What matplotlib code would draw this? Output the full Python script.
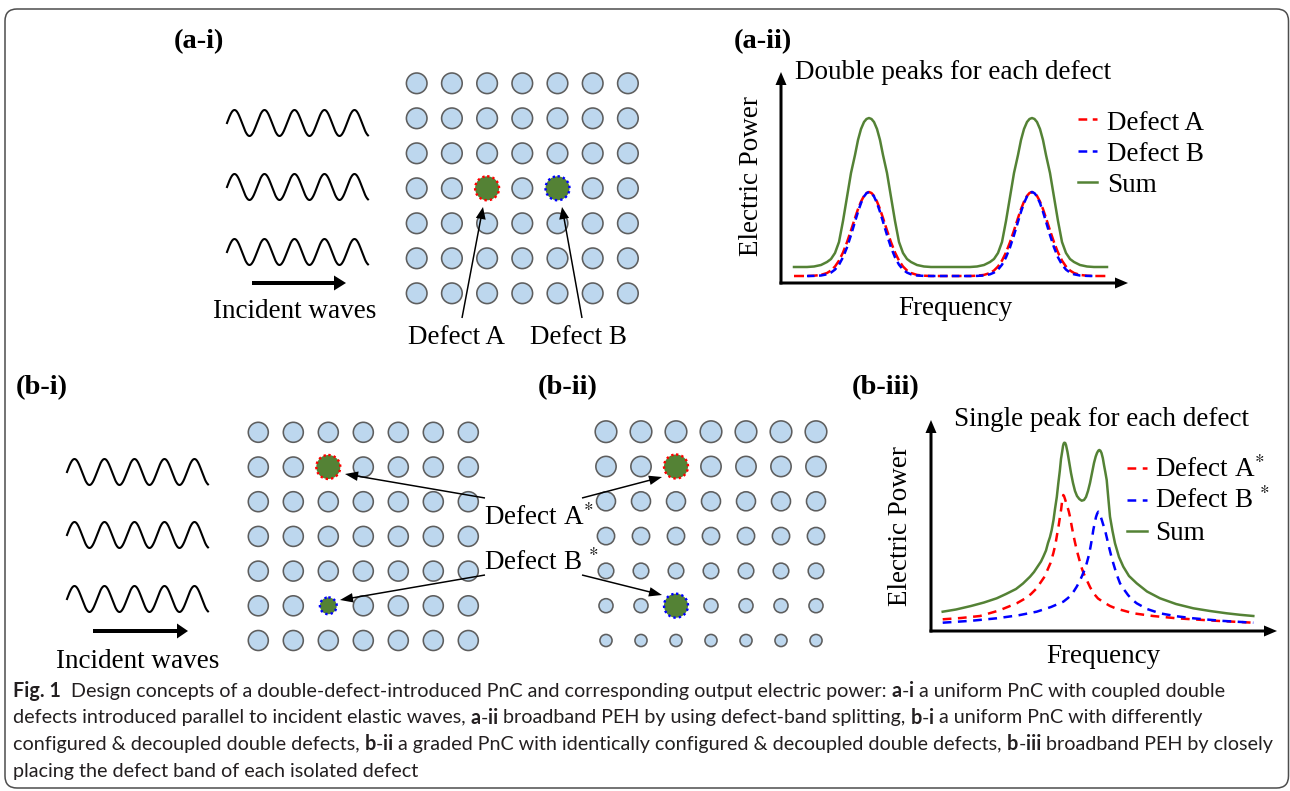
import numpy as np
import matplotlib
matplotlib.use("Agg")
import matplotlib.pyplot as plt
from matplotlib.patches import Circle, FancyBboxPatch

# ---------------------------------------------------------------- data
LATTICE_ROWS = 7
LATTICE_COLS = 7
# (row, col, defect id)
DEFECTS_AI = [(3, 2, "A"), (3, 4, "B")]
DEFECTS_BI = [(1, 2, "A"), (5, 2, "B")]
DEFECTS_BII = [(1, 2, "A"), (5, 2, "B")]
# relative defect size (b-i: differently configured, b-ii: identical)
DEFECT_SIZE_BI = {"A": 1.0, "B": 0.70}
DEFECT_SIZE_BII = {"A": 1.0, "B": 1.0}
# graded PnC: relative cylinder radius of each row (b-ii)
GRADED_RATIO = [1.00, 0.94, 0.88, 0.80, 0.72, 0.65, 0.56]

# (a-ii) double peaks for each defect (frequency / power, arbitrary units)
A2_FREQ = [13, 26, 33, 40, 46, 50, 54, 58, 62, 66, 70, 74, 77, 80, 83, 85.5, 88,
           90.5, 93, 96, 99, 102, 106, 110, 114, 118, 122, 126, 130, 136, 143, 150,
           170,
           189, 196, 203, 209, 213, 217, 221, 225, 229, 233, 237, 240, 243, 246, 248.5, 251,
           253.5, 256, 259, 262, 265, 269, 273, 277, 281, 285, 289, 293, 299, 306, 313,
           326]
A2_SUM = [16, 16, 16.5, 18, 21, 24, 30, 41, 62, 86, 110, 128, 143, 154, 161, 164, 165,
          164, 161, 154, 143, 128, 110, 86, 62, 41, 30, 24, 21, 18, 16.5, 16,
          16,
          16, 16.5, 18, 21, 24, 30, 41, 62, 86, 110, 128, 143, 154, 161, 164, 165,
          164, 161, 154, 143, 128, 110, 86, 62, 41, 30, 24, 21, 18, 16.5, 16,
          16]
A2_DEF_A = [7, 7, 7.3, 8.1, 10, 12.5, 16.5, 22.4, 30.5, 40.8, 52.6, 65, 73.9, 81.4, 87.1, 90, 91,
            90, 87.1, 81.4, 73.9, 65, 52.6, 40.8, 30.5, 22.4, 16.5, 12.5, 10, 8.1, 7.3, 7,
            7,
            7, 7.3, 8.1, 10, 12.5, 16.5, 22.4, 30.5, 40.8, 52.6, 65, 73.9, 81.4, 87.1, 90, 91,
            90, 87.1, 81.4, 73.9, 65, 52.6, 40.8, 30.5, 22.4, 16.5, 12.5, 10, 8.1, 7.3, 7,
            7]
A2_FREQ_B = A2_FREQ[1:-1]
A2_DEF_B = [7, 7.1, 7.5, 8.7, 10.4, 13.4, 18.3, 25.7, 35.6, 47.9, 61.3, 71.2, 79.9, 86.5, 89.8, 91,
            89.8, 86.5, 79.9, 71.2, 61.3, 47.9, 35.6, 25.7, 18.3, 13.4, 10.4, 8.7, 7.5, 7.1, 7,
            7,
            7, 7.1, 7.5, 8.7, 10.4, 13.4, 18.3, 25.7, 35.6, 47.9, 61.3, 71.2, 79.9, 86.5, 89.8, 91,
            89.8, 86.5, 79.9, 71.2, 61.3, 47.9, 35.6, 25.7, 18.3, 13.4, 10.4, 8.7, 7.5, 7.1, 7]

# (b-iii) single peak for each defect
B3_FREQ_SUM = [11.7, 25, 40, 53, 65.7, 75, 85, 92, 99, 103, 107, 110, 112.3, 115, 117,
               119, 120.7, 122.5, 124, 125.8, 127.3, 128.8, 130, 131.2, 132, 132.7, 133.3,
               134.2, 135, 136.5, 138, 140, 142, 144, 146, 148.3, 150.7, 153, 155, 157,
               159, 161, 163, 164.7, 166, 167.3, 168.3, 169.4, 170.5, 171.8, 173, 174.3,
               175.7, 177.3, 179, 181.5, 184, 188, 192.3, 198, 205.7, 216, 229, 245,
               262.3, 279, 295.7, 309, 322.3]
B3_SUM = [19.3, 21.5, 25, 28.5, 32.7, 37, 42, 47.5, 54.3, 59, 65, 69.5, 74.3, 80.5, 88,
          94, 101, 111, 122, 134, 147.7, 160, 172, 179.5, 185, 187.5, 188.3,
          188, 186, 179, 170, 158, 148, 140, 135, 132, 130.3, 131, 134, 140,
          148, 158, 168, 174.5, 178, 180.3, 181, 180.3, 178, 173, 166, 159,
          151, 133, 114.3, 100, 87.7, 74, 64.3, 55, 47.7, 39.5, 32.7, 27,
          22.7, 20, 17.7, 16.2, 15]
B3_FREQ_A = [11.7, 30, 49, 68, 85.7, 95, 100, 105, 109, 113, 116, 119.5, 122.3, 124.3,
             126, 127.6, 129, 130.2, 131, 131.8, 132.3, 133, 134, 135.2, 136.5, 137.8,
             139, 140.5, 142, 143.8, 145.7, 148, 150, 152.7, 155.7, 159, 162.3, 167,
             172.3, 179, 185, 192.3, 202.3, 222, 245.7, 285, 322.3]
B3_DEF_A = [11.7, 13, 15, 20.5, 27.7, 33, 37, 42, 47.7, 53.5, 60, 68, 77.7, 86,
            96, 105, 114.3, 122, 129, 133.5, 136, 135, 132, 128, 124, 119.5,
            114.3, 106, 98, 89.5, 81, 72.5, 65, 57.5, 51, 44, 38, 32.5,
            29, 25, 22.5, 20.5, 17.7, 15, 12.7, 10.2, 8.3]
B3_FREQ_B = [11.7, 40, 65.7, 88, 105.7, 120, 132.3, 137, 140, 143, 145.7, 148.5, 151,
             153.5, 155.7, 157.8, 159.5, 161, 162.3, 163.7, 165, 166.2, 167.3, 168.4,
             169.5, 170.8, 172, 173, 174, 176, 178, 180, 182.3, 185.5, 189, 193, 197,
             201, 205.7, 216, 229, 245, 262.3, 290, 322.3]
B3_DEF_B = [8.3, 10.2, 12.7, 15.8, 19.3, 24, 29.3, 33, 36, 40, 44.3, 49.5, 55,
            61, 67.7, 75.5, 84, 92.5, 101, 108, 114, 117.5, 119.3, 118, 115, 111,
            107, 104, 101, 92.5, 84, 76, 67.7, 57, 47.7, 41.5, 36, 31.5, 27.7,
            22, 17.7, 14.8, 12.7, 10.2, 8.3]

LEGEND_A2 = ["Defect A", "Defect B", "Sum"]
LEGEND_B3 = ["Defect A$^{*}$", "Defect B $^{*}$", "Sum"]

CAPTION = [
    [("Fig. 1", True), ("  Design concepts of a double-defect-introduced PnC and corresponding output electric power: ", False),
     ("a", True), ("-", False), ("i", True), (" a uniform PnC with coupled double", False)],
    [("defects introduced parallel to incident elastic waves, ", False), ("a", True), ("-", False), ("ii", True),
     (" broadband PEH by using defect-band splitting, ", False), ("b", True), ("-", False), ("i", True),
     (" a uniform PnC with differently", False)],
    [("configured & decoupled double defects, ", False), ("b", True), ("-", False), ("ii", True),
     (" a graded PnC with identically configured & decoupled double defects, ", False),
     ("b", True), ("-", False), ("iii", True), (" broadband PEH by closely", False)],
    [("placing the defect band of each isolated defect", False)],
]

# ---------------------------------------------------------------- style
W, H = 1290, 791
plt.rcParams["mathtext.fontset"] = "stix"
SERIF = "Liberation Serif"
SANS = "Lato"
FS = 19.5
CYL_FILL = "#BDD7EE"
CYL_EDGE = "#5E5E5E"
GREEN = "#548235"
RED = "#FF0000"
BLUE = "#0000FF"
DEF_COLOR = {"A": RED, "B": BLUE}

fig = plt.figure(figsize=(W / 100, H / 100), dpi=100)
ax = fig.add_axes([0, 0, 1, 1])
ax.set_xlim(0, W)
ax.set_ylim(H, 0)
ax.axis("off")

ax.add_patch(FancyBboxPatch((5, 9), 1283.5, 779, boxstyle="round,pad=0,rounding_size=12",
                            fill=False, ec="#4d4d4d", lw=1.1))


def label(x, y, s, **kw):
    kw.setdefault("fontsize", FS)
    kw.setdefault("family", SERIF)
    ax.text(x, y, s, **kw)


def arrow(x0, y0, x1, y1, shaft, hw, hl):
    ax.arrow(x0, y0, x1 - x0, y1 - y0, width=shaft, head_width=hw, head_length=hl,
             length_includes_head=True, fc="k", ec="none", zorder=6)


def waves(x0, yc_list, length=141, amp=13, period=30):
    t = np.linspace(0, length, 400)
    for yc in yc_list:
        ax.plot(x0 + t, yc - amp * np.sin(2 * np.pi * t / period), color="k", lw=1.5)


def lattice(x0, y0, dx, dy, r, defects, ratio=None, dsize=None, rdef=12.0):
    ratio = ratio or [1.0] * LATTICE_ROWS
    dpos = {(i, j): d for i, j, d in defects}
    for i in range(LATTICE_ROWS):
        for j in range(LATTICE_COLS):
            cx, cy = x0 + j * dx, y0 + i * dy
            if (i, j) in dpos:
                d = dpos[(i, j)]
                rr = rdef * (dsize[d] if dsize else 1.0)
                ax.add_patch(Circle((cx, cy), rr, fc=GREEN, ec="none", zorder=3))
                ax.add_patch(Circle((cx, cy), rr, fill=False, ec=DEF_COLOR[d], lw=1.7,
                                    ls=(0, (1, 1.3)), zorder=4))
            else:
                ax.add_patch(Circle((cx, cy), r * ratio[i], fc=CYL_FILL, ec=CYL_EDGE,
                                    lw=1.15, zorder=3))


# ---------------------------------------------------------------- (a-i)
label(199, 42, "(a-i)", weight="bold", ha="center", va="center", fontsize=20.5)
waves(227, [123, 187, 252])
arrow(252, 283, 346, 283, 4, 15, 12)
label(295, 318, "Incident waves", ha="center", va="baseline")
lattice(416.7, 83.3, 35.2, 35.0, 10.3, DEFECTS_AI)
arrow(462, 318, 483, 207, 1.5, 10, 12)
arrow(582, 318, 562, 207, 1.5, 10, 12)
label(456, 344, "Defect A", ha="center", va="baseline")
label(578, 344, "Defect B", ha="center", va="baseline")

# ---------------------------------------------------------------- (b-i) / (b-ii)
label(42, 388, "(b-i)", weight="bold", ha="center", va="center", fontsize=20.5)
waves(67, [472, 535, 599])
arrow(93, 631, 188, 631, 4, 15, 11)
label(138, 668, "Incident waves", ha="center", va="baseline")
lattice(258.3, 432.3, 35.0, 34.7, 10.0, DEFECTS_BI, dsize=DEFECT_SIZE_BI)

label(568, 388, "(b-ii)", weight="bold", ha="center", va="center", fontsize=20.5)
lattice(606, 431.7, 35.0, 34.8, 10.8, DEFECTS_BII, ratio=GRADED_RATIO, dsize=DEFECT_SIZE_BII)

label(484, 525, "Defect A$^{*}$", ha="left", va="baseline", zorder=7)
label(484, 570, "Defect B $^{*}$", ha="left", va="baseline", zorder=7)
arrow(485, 498, 345, 474, 1.5, 9.5, 13)
arrow(485, 575, 340, 600, 1.5, 9.5, 13)
arrow(582, 498, 662, 477, 1.5, 9.5, 13)
arrow(582, 575, 662, 595, 1.5, 9.5, 13)


# ---------------------------------------------------------------- plots
def inset(x0, y0, w, h):
    a = fig.add_axes([x0 / W, (H - y0) / H, w / W, h / H])
    a.set_xlim(0, w)
    a.set_ylim(0, h)
    a.axis("off")
    a.arrow(-1.5, 0, w + 1.5, 0, width=3, head_width=11, head_length=13,
            length_includes_head=True, fc="k", ec="none", clip_on=False)
    a.arrow(0, -1.5, 0, h + 1.5, width=3, head_width=11, head_length=13,
            length_includes_head=True, fc="k", ec="none", clip_on=False)
    return a


LW = 1.8
# (a-ii)
label(763, 42, "(a-ii)", weight="bold", ha="center", va="center", fontsize=20.5)
a2 = inset(781, 283, 347, 211)
a2.plot(A2_FREQ, A2_SUM, color=GREEN, lw=LW, clip_on=False, solid_joinstyle="round")
a2.plot(A2_FREQ, A2_DEF_A, color=RED, lw=LW, dashes=(4, 1.5), clip_on=False)
a2.plot(A2_FREQ_B, A2_DEF_B, color=BLUE, lw=LW, dashes=(3, 1.8), clip_on=False)
label(795, 79, "Double peaks for each defect", ha="left", va="baseline")
ax.text(758, 176, "Electric Power", rotation=90, rotation_mode="anchor", ha="center",
        va="baseline", fontsize=FS, family=SERIF)
label(955, 315, "Frequency", ha="center", va="baseline")
for k, (lab, col, ls) in enumerate(zip(LEGEND_A2, [RED, BLUE, GREEN],
                                       [(3.5, 2.2), (3.5, 2.2), None])):
    yy = 119 + k * 31.5
    kw = dict(dashes=ls) if ls else {}
    ax.plot([1078, 1097], [yy, yy], color=col, lw=LW, **kw)
    label(1107, 129.5 + k * 31.5, lab, ha="left", va="baseline")

# (b-iii)
label(886, 388, "(b-iii)", weight="bold", ha="center", va="center", fontsize=20.5)
b3 = inset(931, 631, 346, 211)
b3.plot(B3_FREQ_A, B3_DEF_A, color=RED, lw=LW, dashes=(3.5, 2.6), clip_on=False)
b3.plot(B3_FREQ_B, B3_DEF_B, color=BLUE, lw=LW, dashes=(3.5, 2.6), clip_on=False)
b3.plot(B3_FREQ_SUM, B3_SUM, color=GREEN, lw=LW, clip_on=False, solid_joinstyle="round")
label(954, 426.5, "Single peak for each defect", ha="left", va="baseline")
ax.text(907, 526, "Electric Power", rotation=90, rotation_mode="anchor", ha="center",
        va="baseline", fontsize=FS, family=SERIF)
label(1103, 663, "Frequency", ha="center", va="baseline")
for k, (lab, col, ls) in enumerate(zip(LEGEND_B3, [RED, BLUE, GREEN],
                                       [(3.5, 2.6), (3.5, 2.6), None])):
    yy = 468.3 + k * 31.5
    kw = dict(dashes=ls) if ls else {}
    ax.plot([1127, 1147], [yy, yy], color=col, lw=LW, **kw)
    label(1155, 476.7 + k * 31.7, lab, ha="left", va="baseline")

# ---------------------------------------------------------------- caption
renderer = fig.canvas.get_renderer()


def text_width(s, bold, size):
    t = fig.text(0, 0, s, fontsize=size, family=SANS, weight="bold" if bold else "normal")
    w = t.get_window_extent(renderer=renderer).width
    t.remove()
    return w


def line_width(pieces, size):
    sp = text_width("a a", False, size) - text_width("aa", False, size)
    tot = 0
    for s, b in pieces:
        core = s.strip(" ")
        tot += (len(s) - len(s.lstrip(" "))) * sp + text_width(core, b, size) + \
            (len(s) - len(s.rstrip(" "))) * sp
    return tot


ref = 12.0
cap_size = ref * 1209 / line_width(CAPTION[0], ref)
space = text_width("a a", False, cap_size) - text_width("aa", False, cap_size)
for n, pieces in enumerate(CAPTION):
    x = 13
    y = 697 + n * 26.5
    for s, b in pieces:
        x += (len(s) - len(s.lstrip(" "))) * space
        core = s.strip(" ")
        ax.text(x, y, core, fontsize=cap_size, family=SANS, weight="bold" if b else "normal",
                color="#231F20", ha="left", va="baseline")
        x += text_width(core, b, cap_size) + (len(s) - len(s.rstrip(" "))) * space

fig.savefig("out.png", dpi=100)
